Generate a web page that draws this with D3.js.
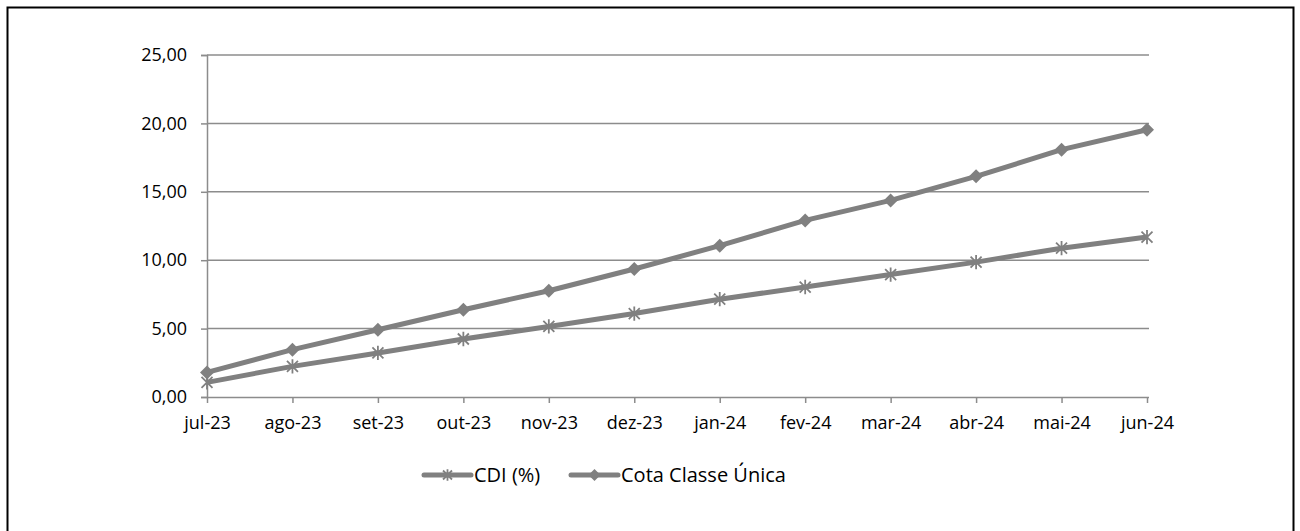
<!DOCTYPE html>
<html>
<head>
<meta charset="utf-8">
<script src="https://cdn.jsdelivr.net/npm/d3@7"></script>
<style>
  body { margin: 0; background: #fff; }
  text { font-family: "Open Sans", "Noto Sans", sans-serif; fill: #000; }
</style>
</head>
<body>
<svg class="chart" width="1300" height="531"></svg>
<script>
const months = ['jul-23', 'ago-23', 'set-23', 'out-23', 'nov-23', 'dez-23',
  'jan-24', 'fev-24', 'mar-24', 'abr-24', 'mai-24', 'jun-24']
const cdi = [1.07, 2.24, 3.22, 4.24, 5.16, 6.10, 7.15, 8.04, 8.95, 9.86, 10.88, 11.69]
const cota = [1.80, 3.46, 4.92, 6.38, 7.77, 9.36, 11.06, 12.91, 14.37, 16.13, 18.08, 19.54]
const yTicks = [0, 5, 10, 15, 20, 25]

const GREY = '#808080'
const GRID = '#8c8c8c'

const svg = d3.select('svg.chart')

// outer frame (bottom edge runs off the picture)
svg.append('path')
  .attr('d', 'M7.5,540 V7.5 H1293.5 V540')
  .attr('fill', 'none')
  .attr('stroke', '#000')
  .attr('stroke-width', 2)

const plotLeft = 207, plotRight = 1147, plotTop = 55, plotBottom = 397

const x = d3.scalePoint().domain(months).range([plotLeft, plotRight])
const y = d3.scaleLinear().domain([0, 25]).range([plotBottom, plotTop])
const fmt = v => d3.format('.2f')(v).replace('.', ',')

// horizontal gridlines
svg.append('g')
  .selectAll('line')
  .data(yTicks.filter(d => d > 0))
  .enter()
  .append('line')
  .attr('x1', plotLeft)
  .attr('x2', plotRight + 2)
  .attr('y1', d => y(d))
  .attr('y2', d => y(d))
  .attr('stroke', GRID)
  .attr('stroke-width', 1.5)

// y axis
const yAxis = svg.append('g')
  .attr('transform', `translate(${plotLeft},0)`)
  .call(d3.axisLeft(y).tickValues(yTicks).tickFormat(fmt).tickSize(6).tickPadding(14))
yAxis.select('.domain').attr('stroke', GRID).attr('stroke-width', 1.5)
yAxis.selectAll('.tick line').attr('stroke', GRID).attr('stroke-width', 1.5)
yAxis.selectAll('text').style('font-size', '18px').attr('fill', '#000')

// x axis
const xAxis = svg.append('g')
  .attr('transform', `translate(0,${plotBottom})`)
  .call(d3.axisBottom(x).tickSize(6).tickPadding(13).tickSizeOuter(0))
xAxis.select('.domain')
  .attr('d', `M${plotLeft},0.5H${plotRight + 2}`)
  .attr('stroke', GRID).attr('stroke-width', 1.5)
xAxis.selectAll('.tick line').attr('stroke', GRID).attr('stroke-width', 1.5)
xAxis.selectAll('text').style('font-size', '18px').attr('fill', '#000')

const line = d3.line()
  .x((d, i) => x(months[i]))
  .y(d => y(d))

function drawSeries(values) {
  svg.append('path')
    .datum(values)
    .attr('d', line)
    .attr('fill', 'none')
    .attr('stroke', GREY)
    .attr('stroke-width', 5)
    .attr('stroke-linejoin', 'round')
}

function asterisk(g, cx, cy, r) {
  const path = `M${cx - r},${cy - r}L${cx + r},${cy + r}M${cx - r},${cy + r}L${cx + r},${cy - r}M${cx},${cy - r * 1.3}V${cy + r * 1.3}`
  g.append('path')
    .attr('d', path)
    .attr('stroke', GREY)
    .attr('stroke-width', 1.8)
    .attr('fill', 'none')
}

function diamond(g, cx, cy, r) {
  g.append('path')
    .attr('d', `M${cx},${cy - r}L${cx + r},${cy}L${cx},${cy + r}L${cx - r},${cy}Z`)
    .attr('fill', GREY)
}

drawSeries(cdi)
drawSeries(cota)

const markers = svg.append('g')
cdi.forEach((v, i) => asterisk(markers, x(months[i]), y(v), 5.5))
cota.forEach((v, i) => diamond(markers, x(months[i]), y(v), 7))

// legend
const legend = svg.append('g')
const ly = 475
const items = [
  { name: 'CDI (%)', x0: 424, marker: 'asterisk' },
  { name: 'Cota Classe Única', x0: 571, marker: 'diamond' },
]
items.forEach(it => {
  legend.append('line')
    .attr('x1', it.x0).attr('x2', it.x0 + 47)
    .attr('y1', ly).attr('y2', ly)
    .attr('stroke', GREY)
    .attr('stroke-width', 5)
    .attr('stroke-linecap', 'round')
  if (it.marker === 'asterisk') asterisk(legend, it.x0 + 23.5, ly, 4.5)
  else diamond(legend, it.x0 + 23.5, ly, 6)
  legend.append('text')
    .attr('x', it.x0 + 50)
    .attr('y', ly)
    .attr('dy', '0.35em')
    .style('font-size', '20px')
    .text(it.name)
})
</script>
</body>
</html>
